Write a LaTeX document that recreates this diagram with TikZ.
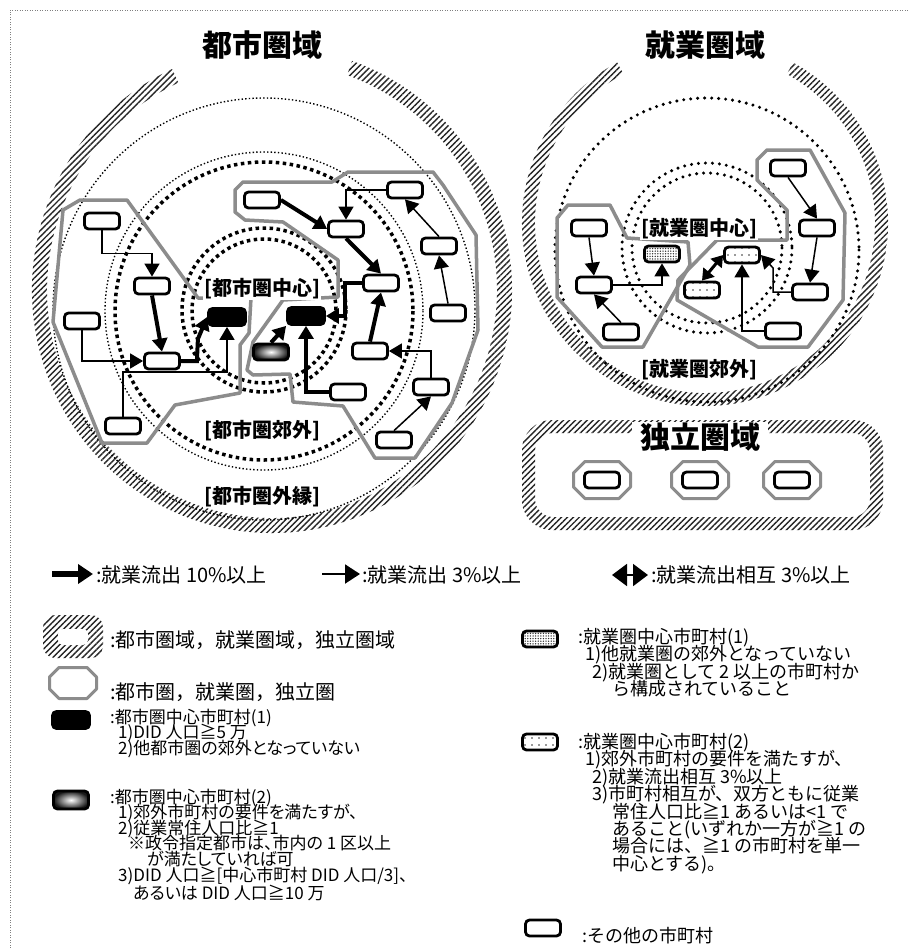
\documentclass[tikz,border=0pt]{standalone}
\usepackage{fontspec}
\setmainfont{Noto Sans CJK JP}
\newfontfamily\jpp{Noto Sans CJK JP}[RawFeature=+palt]
\usetikzlibrary{arrows.meta,patterns,patterns.meta,calc}
\definecolor{polygray}{gray}{0.55}
\newcommand\mytightlines{\setlength{\lineskiplimit}{-20pt}\setlength{\lineskip}{0pt}}
\tikzset{
  pics/octbig/.style={code={\draw[draw=polygray,line width=3pt,line join=round] (-28.5,-7) -- (-17,-18.5) -- (17,-18.5) -- (28.5,-7) -- (28.5,7) -- (17,18.5) -- (-17,18.5) -- (-28.5,7) -- cycle;}},
  pics/octsmall/.style={code={\draw[draw=polygray,line width=3pt,line join=round] (-23.5,-6) -- (-14,-15.5) -- (14,-15.5) -- (23.5,-6) -- (23.5,6) -- (14,15.5) -- (-14,15.5) -- (-23.5,6) -- cycle;}}
}
\begin{document}
\begin{tikzpicture}[x=1pt,y=-1pt,
  hatch/.style={pattern={Lines[angle=45,distance=4.2pt,line width=1.4pt]},pattern color=black!85},
  thindot/.style={line width=1.4pt,dash pattern=on 1.4pt off 2.2pt},
  thickdot/.style={line width=3.5pt,dash pattern=on 3.5pt off 3.5pt},
  rounddot/.style={line width=3.4pt,line cap=round,dash pattern=on 0pt off 7pt},
  zoneline/.style={draw=polygray,line width=3.5pt,line join=round},
  mun/.style={draw=black,line width=2.8pt,fill=white,rounded corners=4pt,minimum width=35pt,minimum height=16pt,inner sep=0pt},
  cenA/.style={mun,fill=black,minimum width=37pt,minimum height=17pt},
  cenB/.style={mun,inner color=white,outer color=black!90},
  empA/.style={mun,preaction={fill=white},pattern={Dots[distance=2.6pt,radius=0.75pt]},pattern color=black!80},
  empB/.style={mun,preaction={fill=white},pattern={Dots[distance=7pt,radius=0.8pt]},pattern color=black!80},
  arrowthick/.style={line width=4pt,-{Triangle[length=13pt,width=15pt]}},
  arrowthin/.style={line width=1.5pt,-{Triangle[length=13pt,width=15pt]}},
  arrowboth/.style={line width=3pt,{Triangle[length=11pt,width=14pt]}-{Triangle[length=11pt,width=14pt]}},
  titletext/.style={font=\fontsize{30}{32}\selectfont\bfseries,inner sep=1pt},
  zone/.style={font=\fontsize{20}{22}\selectfont\bfseries,fill=white,inner sep=1pt},
  legL/.style={font=\fontsize{20}{22}\selectfont,anchor=west,inner sep=0pt},
  legS/.style={font={\jpp\fontsize{17}{15.6}\selectfont\mytightlines},anchor=base west,inner sep=0pt,align=left},
  legR/.style={font={\fontsize{18}{17.4}\selectfont\mytightlines},anchor=base west,inner sep=0pt,align=left}
]
\useasboundingbox (0,0) rectangle (909,948);
\fill[white] (0,0) rectangle (909,948);
\draw[black!50,line width=0.8pt,dash pattern=on 1pt off 1.5pt] (10,948) -- (10,10) -- (909,10);

% ===== left: urban area =====
\fill[hatch] ($(272,290)+(-70.5:240 and 243)$) arc[start angle=-70.5,end angle=245.4,x radius=240,y radius=243]
  -- ($(272,290)+(245.4:225 and 228)$) arc[start angle=245.4,end angle=-70.5,x radius=225,y radius=228] -- cycle;
\node[titletext] (ttlA) at (262,45) {都市圏域};
\draw[thindot] (264,309) circle[radius=211];
\draw[thindot] (264,311) circle[radius=159];
\draw[thickdot] (264,311) circle[radius=149];
\draw[thickdot] (264,310) circle[radius=82];
\draw[thickdot] (264,311) circle[radius=72];

\draw[zoneline] (80,200) -- (127,200) -- (198,298) -- (251,298) -- (249,333) -- (240,345) -- (240,393) -- (175,405) -- (147,443) -- (102,443) -- (53,322) -- (63,210) -- cycle;
\draw[zoneline] (243,182) -- (332,182) -- (348,172) -- (433,172) -- (443,185) -- (476,235) -- (478,330) -- (452,403) -- (415,458) -- (375,458) -- (343,406) -- (293,402) -- (290,374) -- (253,375) -- (247,370) -- (253,342) -- (283,300) -- (338,297) -- (338,260) -- (283,222) -- (245,220) -- (235,212) -- (235,190) -- cycle;

\node[zone] (lcen) at (262,289) {[都市圏中心]};
\node[zone] (lsub) at (262,431) {[都市圏郊外]};
\node[zone] (lout) at (262,497) {[都市圏外縁]};

\node[mun] (n1) at (102,221) {};
\node[mun] (n2) at (152,286) {};
\node[mun] (n3) at (82,321) {};
\node[mun] (n4) at (162,361) {};
\node[mun] (k) at (123,426) {};
\node[cenA] (c1) at (227,317) {};
\node[mun] (a) at (262,200) {};
\node[mun] (b) at (346,229) {};
\node[mun] (c) at (405,190) {};
\node[mun] (d) at (381,283) {};
\node[mun] (e) at (439,246) {};
\node[mun] (f) at (448,313) {};
\node[mun] (g) at (370,351) {};
\node[mun] (h) at (431,387) {};
\node[mun] (i) at (348,392) {};
\node[mun] (j) at (394,440) {};
\node[cenA] (c2) at (306,316) {};
\node[cenB] (gr) at (271,352) {};

\coordinate (kc) at (227,372);
\draw[arrowthin] (n1.south) -- ++(0,23) -| (n2.north);
\draw[arrowthick] (n2.south) -- (n4.north);
\draw[arrowthin] (n3.south) |- (n4.west);
\draw[arrowthick] (n4.east) -- ++(16,0) -- ++(1,-22) -- (c1.west);
\draw[arrowthin] (k.north) |- (kc) -- (c1.south);
\draw[arrowthick] (a.east) -- (b.west);
\draw[arrowthin] (c.west) -| (b.north);
\draw[arrowthick] (b.south) -- (d.north);
\draw[arrowthin] (e.north) -- (c.south);
\draw[arrowthin] (f.north) -- (e.south);
\draw[arrowthick] (g.north) -- (d.south);
\draw[arrowthick] (d.west) -- ++(-17,0) |- (c2.east);
\draw[arrowthin] (h.north) |- (g.east);
\draw[arrowthin] (j.north) -- (h.south);
\draw[arrowthick] (i.west) -| (c2.south);
\draw[arrowthick] (gr.north) -- (c2.south west);

% ===== right: employment area =====
\fill[hatch] ($(705,223)+(-61.2:183 and 183)$) arc[start angle=-61.2,end angle=241.3,radius=183]
  -- ($(705,223)+(241.3:170 and 170)$) arc[start angle=241.3,end angle=-61.2,radius=170] -- cycle;
\node[titletext] (ttlB) at (705,45) {就業圏域};
\draw[rounddot] (707,250) circle[radius=152];
\draw[rounddot] (707,248) circle[radius=85];
\draw[rounddot] (707,248) circle[radius=75];

\draw[zoneline] (568,205) -- (610,205) -- (627,238) -- (688,242) -- (690,265) -- (643,347) -- (602,347) -- (557,297) -- (557,218) -- cycle;
\draw[zoneline] (767,150) -- (810,150) -- (845,213) -- (843,300) -- (808,347) -- (758,347) -- (677,300) -- (678,280) -- (717,240) -- (787,240) -- (787,210) -- (757,180) -- (757,160) -- cycle;

\node[zone] (rcen) at (699,229) {[就業圏中心]};
\node[zone] (rsub) at (699,370) {[就業圏郊外]};

\node[mun] (r1) at (788,168) {};
\node[mun] (r2) at (817,228) {};
\node[mun] (r3) at (810,292) {};
\node[mun] (r4) at (783,331) {};
\node[mun] (l1) at (589,228) {};
\node[mun] (l2) at (594,285) {};
\node[mun] (l3) at (621,332) {};
\node[empA] (ds) at (662,254) {};
\node[empB] (dp1) at (742,255) {};
\node[empB] (dp2) at (702,290) {};

\draw[arrowthin] (r1.south) -- (r2.north);
\draw[arrowthin] (r2.south) -- (r3.north);
\draw[arrowthin] (r3.west) -- ++(-18,0) -- ++(0,-24) -- (dp1.east);
\draw[arrowthin] (r4.west) -| (dp1.south);
\draw[arrowthin] (l1.south) -- (l2.north);
\draw[arrowthin] (l3.north) -- (l2.south);
\draw[arrowthin] (l2.east) -| (ds.south);
\draw[arrowboth] (dp2.north) -- (dp1.west);

% ===== independent area =====
\fill[hatch,even odd rule,rounded corners=30pt] (522,420) rectangle (883,530) [rounded corners=18pt] (535,433) rectangle (870,517);
\node[titletext,font=\fontsize{30}{32}\selectfont\bfseries,fill=white,inner xsep=8pt] (ttlC) at (700,437) {独立圏域};
\pic at (602,480) {octbig};
\pic at (700,480) {octbig};
\pic at (792,480) {octbig};
\node[mun] (o1) at (602,480) {};
\node[mun] (o2) at (700,480) {};
\node[mun] (o3) at (792,480) {};

% ===== legend =====
\coordinate (la1) at (52,574); \coordinate (la2) at (93,574);
\draw[line width=6pt,-{Triangle[length=15pt,width=19pt]}] (la1) -- (la2);
\node[legL] (lt1) at (96,575) {:就業流出 10\%以上};
\coordinate (lb1) at (322,574); \coordinate (lb2) at (360,574);
\draw[line width=2pt,-{Triangle[length=15pt,width=19pt]}] (lb1) -- (lb2);
\node[legL] (lt2) at (362,575) {:就業流出 3\%以上};
\coordinate (lc1) at (612,575); \coordinate (lc2) at (648,575);
\draw[line width=2pt,{Triangle[length=15pt,width=22pt]}-{Triangle[length=15pt,width=22pt]}] (lc1) -- (lc2);
\node[legL] (lt3) at (651,575) {:就業流出相互 3\%以上};

\fill[hatch,rounded corners=12pt] (43,615) rectangle (103,658);
\fill[white,rounded corners=5pt] (58,629) rectangle (88,645);
\node[legL] (lt4) at (110,640) {:都市圏域，就業圏域，独立圏域};
\pic at (73,683) {octsmall};
\node[legL] (lt5) at (110,692) {:都市圏，就業圏，独立圏};

\node[cenA] (ic1) at (71,720) {};
\node[legS] (lt6) at (110,754.2) {:都市圏中心市町村(1)\\\hspace*{8pt}1)DID 人口≧5 万\\\hspace*{8pt}2)他都市圏の郊外となっていない};
\node[cenB,minimum height=18pt] (ic2) at (71,800) {};
\node[legS] (lt7) at (110,881) {:都市圏中心市町村(2)\\\hspace*{8pt}1)郊外市町村の要件を満たすが、\\\hspace*{8pt}2)従業常住人口比≧1\\\hspace*{18pt}※政令指定都市は、市内の 1 区以上\\\hspace*{37pt}が満たしていれば可\\\hspace*{8pt}3)DID 人口≧[中心市町村 DID 人口/3]、};
\node[legS] (lt8) at (133,899) {あるいは DID 人口≧10 万};

\node[empA] (ic3) at (540,639) {};
\node[legR] (lt9) at (578,695.7) {:就業圏中心市町村(1)\\\hspace*{7pt}1)他就業圏の郊外となっていない\\\hspace*{14pt}2)就業圏として 2 以上の市町村か\\\hspace*{34pt}ら構成されていること};
\node[empB] (ic4) at (540,742) {};
\node[legR] (lt10) at (578,870.3) {:就業圏中心市町村(2)\\\hspace*{7pt}1)郊外市町村の要件を満たすが、\\\hspace*{14pt}2)就業流出相互 3\%以上\\\hspace*{14pt}3)市町村相互が、双方ともに従業\\\hspace*{34pt}常住人口比≧1 あるいは<1 で\\\hspace*{34pt}あること(いずれか一方が≧1 の\\\hspace*{34pt}場合には、≧1 の市町村を単一\\\hspace*{34pt}中心とする)。};
\node[mun] (ic5) at (543,928) {};
\node[legR] (lt11) at (582,942) {:その他の市町村};
\end{tikzpicture}
\end{document}
